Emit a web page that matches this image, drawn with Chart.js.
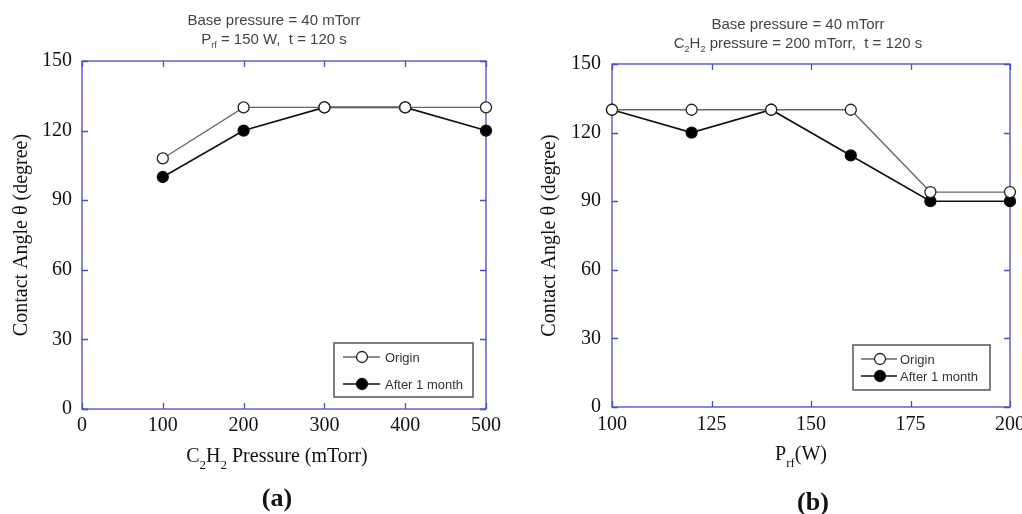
<!DOCTYPE html>
<html>
<head>
<meta charset="utf-8">
<script src="https://cdn.jsdelivr.net/npm/chart.js@4.4.1/dist/chart.umd.min.js"></script>
<style>
  html, body { margin: 0; padding: 0; background: #fff; overflow: hidden; }
  #wrap { position: relative; width: 1022px; height: 514px; overflow: hidden; }
  canvas { position: absolute; top: 0; }
  .head {
    position: absolute; text-align: center; width: 320px;
    font-family: "Liberation Sans", Arial, sans-serif; font-size: 15px; line-height: 19px; color: #444;
  }
  .head sub { font-size: 9px; vertical-align: -4px; line-height: 0; }
  .xtitle {
    position: absolute; text-align: center; width: 300px;
    font-family: "Liberation Serif", "Times New Roman", serif; font-size: 20px; line-height: 22px; color: #111;
  }
  .xtitle sub { font-size: 13px; vertical-align: -7px; line-height: 0; }
  .cap {
    position: absolute; text-align: center; width: 100px;
    font-family: "Liberation Serif", "Times New Roman", serif; font-weight: bold; font-size: 26px; line-height: 28px; color: #111;
  }
</style>
</head>
<body>
<div id="wrap">
  <canvas id="chartA" width="511" height="514" style="left:0"></canvas>
  <canvas id="chartB" width="540" height="514" style="left:511px"></canvas>

  <div class="head" style="left:114px; top:10px">Base pressure = 40 mTorr<br>P<sub>rf</sub> = 150 W,&nbsp; t = 120 s</div>
  <div class="head" style="left:638px; top:14px">Base pressure = 40 mTorr<br>C<sub>2</sub>H<sub>2</sub> pressure = 200 mTorr,&nbsp; t = 120 s</div>

  <div class="xtitle" style="left:127px; top:444px">C<sub>2</sub>H<sub>2</sub> Pressure (mTorr)</div>
  <div class="xtitle" style="left:651px; top:442px">P<sub>rf</sub>(W)</div>

  <div class="cap" style="left:227px; top:484px">(a)</div>
  <div class="cap" style="left:763px; top:488px">(b)</div>
</div>

<script>
// ===== DATA =====
// (a) C2H2 pressure series
const pressureX = [100, 200, 300, 400, 500];
const pressureOrigin = [108, 130, 130, 130, 130];
const pressureAfter = [100, 120, 130, 130, 120];
const pressureTicks = [0, 100, 200, 300, 400, 500];

// (b) rf power series
const powerX = [100, 120, 140, 160, 180, 200];
const powerOrigin = [130, 130, 130, 130, 94, 94];
const powerAfter = [130, 120, 130, 110, 90, 90];
const powerTicks = [100, 125, 150, 175, 200];

const angleTicks = [0, 30, 60, 90, 120, 150];
const seriesNames = ['Origin', 'After 1 month'];

const frameColor = '#4b4bc6';
const serif = '"Liberation Serif", "Times New Roman", serif';

// frame box + inward ticks on all four sides
const frameTicks = {
  id: 'frameTicks',
  beforeDatasetsDraw(chart) {
    const { ctx, chartArea: a, scales: { x, y } } = chart;
    ctx.save();
    ctx.strokeStyle = frameColor;
    ctx.lineWidth = 1.3;
    ctx.strokeRect(a.left, a.top, a.width, a.height);
    ctx.beginPath();
    x.ticks.forEach(t => {
      const px = Math.round(x.getPixelForValue(t.value)) + 0.5;
      ctx.moveTo(px, a.bottom); ctx.lineTo(px, a.bottom - 6);
      ctx.moveTo(px, a.top); ctx.lineTo(px, a.top + 6);
    });
    y.ticks.forEach(t => {
      const py = Math.round(y.getPixelForValue(t.value)) + 0.5;
      ctx.moveTo(a.left, py); ctx.lineTo(a.left + 6, py);
      ctx.moveTo(a.right, py); ctx.lineTo(a.right - 6, py);
    });
    ctx.stroke();
    ctx.restore();
  }
};

// boxed legend inside the plot, lower right
const boxLegend = {
  id: 'boxLegend',
  afterDatasetsDraw(chart, args, o) {
    const { ctx, chartArea: a } = chart;
    const bx = a.right - o.right - o.width;
    const by = a.bottom - o.bottom - o.height;
    ctx.save();
    ctx.fillStyle = '#fff';
    ctx.fillRect(bx, by, o.width, o.height);
    ctx.strokeStyle = '#555';
    ctx.lineWidth = 1.5;
    ctx.strokeRect(bx, by, o.width, o.height);
    chart.data.datasets.forEach((ds, i) => {
      const ry = by + o.rows[i];
      ctx.strokeStyle = ds.borderColor;
      ctx.lineWidth = ds.borderWidth;
      ctx.beginPath();
      ctx.moveTo(bx + o.lineFrom, ry); ctx.lineTo(bx + o.lineTo, ry);
      ctx.stroke();
      ctx.beginPath();
      ctx.arc(bx + o.marker, ry, ds.pointRadius, 0, Math.PI * 2);
      ctx.fillStyle = ds.pointBackgroundColor;
      ctx.fill();
      ctx.strokeStyle = ds.pointBorderColor;
      ctx.lineWidth = ds.pointBorderWidth;
      ctx.stroke();
      ctx.fillStyle = '#333';
      ctx.font = '13px "Liberation Sans", Arial, sans-serif';
      ctx.textBaseline = 'middle';
      ctx.fillText(ds.label, bx + o.text, ry + 1);
    });
    ctx.restore();
  }
};

function series(xs, ys) {
  return xs.map((v, i) => ({ x: v, y: ys[i] }));
}

function makeChart(id, xs, origin, after, xTicks, g) {
  const ctx = document.getElementById(id).getContext('2d');
  return new Chart(ctx, {
    type: 'line',
    data: {
      datasets: [{
        label: seriesNames[0],
        data: series(xs, origin),
        borderColor: '#666',
        borderWidth: 1.3,
        pointRadius: 5.5,
        pointBackgroundColor: '#fff',
        pointBorderColor: '#222',
        pointBorderWidth: 1.3,
        tension: 0,
        clip: false
      }, {
        label: seriesNames[1],
        data: series(xs, after),
        borderColor: '#111',
        borderWidth: 1.6,
        pointRadius: 5.5,
        pointBackgroundColor: '#000',
        pointBorderColor: '#111',
        pointBorderWidth: 1.3,
        tension: 0,
        clip: false
      }]
    },
    options: {
      responsive: false,
      animation: false,
      events: [],
      layout: { padding: { top: g.top, right: g.right, left: 0, bottom: 0 } },
      scales: {
        x: {
          type: 'linear',
          min: xTicks[0],
          max: xTicks[xTicks.length - 1],
          afterBuildTicks: s => { s.ticks = xTicks.map(v => ({ value: v })); },
          afterFit: s => { s.height = g.xHeight; },
          grid: { display: false, drawTicks: false },
          border: { display: false },
          ticks: { padding: g.xPad, color: '#111', font: { family: serif, size: 20 }, maxRotation: 0 }
        },
        y: {
          min: 0,
          max: 150,
          afterBuildTicks: s => { s.ticks = angleTicks.map(v => ({ value: v })); },
          afterFit: s => { s.width = g.yWidth; },
          grid: { display: false, drawTicks: false },
          border: { display: false },
          ticks: { padding: g.yPad, color: '#111', font: { family: serif, size: 20 } },
          title: {
            display: true,
            text: 'Contact Angle θ (degree)',
            color: '#111',
            font: { family: serif, size: 20 },
            padding: { top: g.titlePad, bottom: 0 }
          }
        }
      },
      plugins: {
        legend: { display: false },
        tooltip: { enabled: false },
        boxLegend: g.legend
      }
    },
    plugins: [frameTicks, boxLegend]
  });
}

makeChart('chartA', pressureX, pressureOrigin, pressureAfter, pressureTicks, {
  top: 61, right: 25, xHeight: 105, yWidth: 82, xPad: 5, yPad: 10, titlePad: 10,
  legend: { right: 13, bottom: 12, width: 139, height: 54, rows: [14, 41],
            lineFrom: 9, lineTo: 46, marker: 28, text: 51 }
});

makeChart('chartB', powerX, powerOrigin, powerAfter, powerTicks, {
  top: 64, right: 41, xHeight: 107, yWidth: 101, xPad: 6, yPad: 11, titlePad: 27,
  legend: { right: 20, bottom: 17, width: 137, height: 45, rows: [14, 31],
            lineFrom: 8, lineTo: 44, marker: 27, text: 47 }
});
</script>
</body>
</html>
